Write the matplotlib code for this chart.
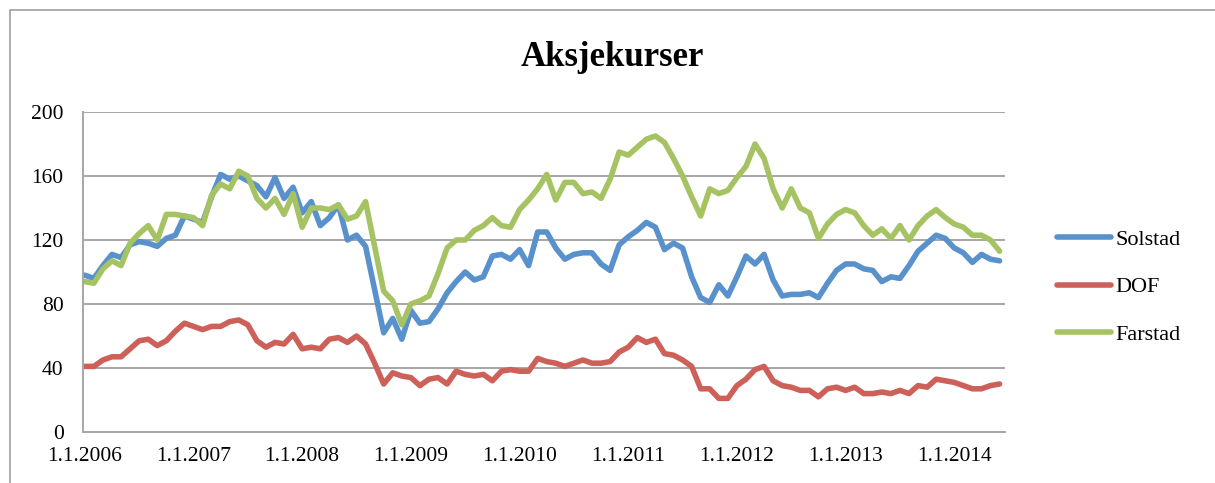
import matplotlib
matplotlib.use('Agg')
import matplotlib.pyplot as plt
from matplotlib.patches import Rectangle

# monthly share prices, Jan 2006 - Jun 2014
solstad = [98, 96, 104, 111, 109, 117, 119, 118, 116, 121, 123, 135, 133, 131, 147, 161,
           158, 160, 157, 154, 147, 159, 146, 153, 137, 144, 129, 134, 142, 120, 123, 116,
           89, 62, 71, 58, 76, 68, 69, 77, 87, 94, 100, 95, 97, 110, 111, 108,
           114, 104, 125, 125, 115, 108, 111, 112, 112, 105, 101, 117, 122, 126, 131, 128,
           114, 118, 115, 97, 84, 81, 92, 85, 97, 110, 105, 111, 95, 85, 86, 86,
           87, 84, 93, 101, 105, 105, 102, 101, 94, 97, 96, 104, 113, 118, 123, 121,
           115, 112, 106, 111, 108, 107]
dof = [41, 41, 45, 47, 47, 52, 57, 58, 54, 57, 63, 68, 66, 64, 66, 66,
       69, 70, 67, 57, 53, 56, 55, 61, 52, 53, 52, 58, 59, 56, 60, 55,
       43, 30, 37, 35, 34, 29, 33, 34, 30, 38, 36, 35, 36, 32, 38, 39,
       38, 38, 46, 44, 43, 41, 43, 45, 43, 43, 44, 50, 53, 59, 56, 58,
       49, 48, 45, 41, 27, 27, 21, 21, 29, 33, 39, 41, 32, 29, 28, 26,
       26, 22, 27, 28, 26, 28, 24, 24, 25, 24, 26, 24, 29, 28, 33, 32,
       31, 29, 27, 27, 29, 30]
farstad = [94, 93, 102, 107, 104, 118, 124, 129, 120, 136, 136, 135, 134, 129, 148, 155,
           152, 163, 160, 146, 140, 146, 136, 149, 128, 140, 140, 139, 142, 133, 135, 144,
           116, 88, 82, 67, 80, 82, 85, 99, 115, 120, 120, 126, 129, 134, 129, 128,
           139, 145, 152, 161, 145, 156, 156, 149, 150, 146, 158, 175, 173, 178, 183, 185,
           181, 171, 160, 147, 135, 152, 149, 151, 159, 166, 180, 171, 152, 140, 152, 140,
           137, 121, 130, 136, 139, 137, 129, 123, 127, 121, 129, 120, 129, 135, 139, 134,
           130, 128, 123, 123, 120, 113]

tick_pos = [0, 12, 24, 36, 48, 60, 72, 84, 96]
tick_labels = ['1.1.2006', '1.1.2007', '1.1.2008', '1.1.2009', '1.1.2010',
               '1.1.2011', '1.1.2012', '1.1.2013', '1.1.2014']

plt.rcParams['font.family'] = ['Liberation Serif', 'DejaVu Serif']

W, H = 1215, 483
fig = plt.figure(figsize=(W / 100, H / 100), dpi=100)
ax = fig.add_axes([83 / W, 51 / H, 922 / W, 320 / H])

x = range(len(solstad))
style = dict(lw=4, solid_joinstyle='round', solid_capstyle='round')
ax.plot(x, solstad, color='#5891CB', label='Solstad', **style)
ax.plot(x, dof, color='#CD6058', label='DOF', **style)
ax.plot(x, farstad, color='#A6C363', label='Farstad', **style)

ax.set_ylim(0, 200)
ax.set_xlim(-0.2, 101.6)
ax.set_yticks([0, 40, 80, 120, 160, 200])
ax.set_xticks(tick_pos)
ax.set_xticklabels(tick_labels)
ax.tick_params(length=0, labelsize=15.5)
ax.tick_params(axis='y', pad=14)
ax.tick_params(axis='x', pad=11)
ax.grid(axis='y', color='#A6A6A6', lw=1.4)
ax.set_axisbelow(True)
for s in ['top', 'right']:
    ax.spines[s].set_visible(False)
for s in ['left', 'bottom']:
    ax.spines[s].set_color('#A6A6A6')
    ax.spines[s].set_linewidth(1.4)

fig.text(612 / W, 1 - 58 / H, 'Aksjekurser', ha='center', va='center',
         fontsize=25, fontweight='bold')

ax.legend(loc='center left', bbox_to_anchor=(1048 / W, 1 - 287 / H),
          bbox_transform=fig.transFigure, frameon=False, fontsize=16,
          handlelength=2.45, handletextpad=0.18, labelspacing=1.2,
          borderaxespad=0)

# outer chart frame
fig.patches.append(Rectangle((10 / W, -0.1), 1.2, 1 - 10 / H + 0.1, fill=False,
                             edgecolor='#A0A0A0', lw=1.2,
                             transform=fig.transFigure))

fig.savefig('out.png', dpi=100)
